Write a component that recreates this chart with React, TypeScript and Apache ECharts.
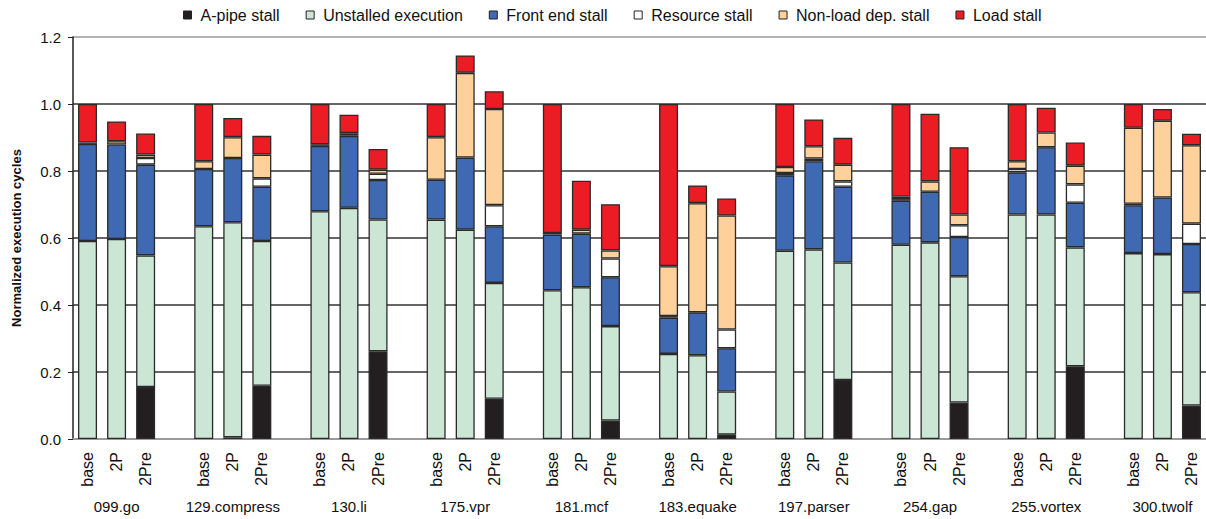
import React, { useEffect, useRef } from "react";
import * as echarts from "echarts";

const benchmarks = ["099.go", "129.compress", "130.li", "175.vpr", "181.mcf", "183.equake", "197.parser", "254.gap", "255.vortex", "300.twolf"];
const configs = ["base", "2P", "2Pre"];

const seriesNames = ["A-pipe stall", "Unstalled execution", "Front end stall", "Resource stall", "Non-load dep. stall", "Load stall"];
const seriesColors = ["#231f20", "#cce6d6", "#3f69b3", "#ffffff", "#fdd09c", "#ec1c24"];

// values per bar, order: benchmark-major, then base / 2P / 2Pre
const aPipe = [
  0, 0, 0.155,
  0, 0.005, 0.159,
  0, 0, 0.262,
  0, 0, 0.12,
  0, 0, 0.055,
  0, 0, 0.013,
  0, 0, 0.176,
  0, 0, 0.109,
  0, 0, 0.217,
  0, 0, 0.1,
];
const unstalled = [
  0.591, 0.597, 0.393,
  0.635, 0.642, 0.432,
  0.68, 0.69, 0.393,
  0.655, 0.625, 0.346,
  0.444, 0.453, 0.282,
  0.254, 0.25, 0.129,
  0.562, 0.566, 0.351,
  0.58, 0.587, 0.377,
  0.67, 0.67, 0.355,
  0.555, 0.552, 0.338,
];
const frontEnd = [
  0.29, 0.282, 0.271,
  0.171, 0.192, 0.162,
  0.195, 0.215, 0.118,
  0.119, 0.215, 0.169,
  0.166, 0.16, 0.146,
  0.108, 0.128, 0.129,
  0.225, 0.263, 0.226,
  0.131, 0.151, 0.117,
  0.126, 0.201, 0.133,
  0.143, 0.169, 0.144,
];
const resource = [
  0, 0, 0.02,
  0, 0, 0.025,
  0, 0, 0.019,
  0, 0, 0.063,
  0, 0, 0.056,
  0.005, 0, 0.056,
  0.007, 0.008, 0.016,
  0.005, 0, 0.035,
  0.01, 0, 0.055,
  0.004, 0, 0.061,
];
const nonLoad = [
  0.004, 0.01, 0.01,
  0.023, 0.062, 0.071,
  0.005, 0.008, 0.012,
  0.127, 0.253, 0.287,
  0.005, 0.012, 0.024,
  0.149, 0.326, 0.34,
  0.018, 0.037, 0.05,
  0.008, 0.031, 0.032,
  0.023, 0.044, 0.056,
  0.227, 0.229, 0.234,
];
const loadStall = [
  0.115, 0.059, 0.063,
  0.171, 0.057, 0.056,
  0.12, 0.055, 0.062,
  0.099, 0.052, 0.053,
  0.385, 0.146, 0.138,
  0.484, 0.053, 0.051,
  0.188, 0.08, 0.08,
  0.276, 0.202, 0.201,
  0.171, 0.074, 0.069,
  0.071, 0.035, 0.034,
];

const allValues = [aPipe, unstalled, frontEnd, resource, nonLoad, loadStall];

export default function App() {
  const ref = useRef<HTMLDivElement>(null);
  useEffect(() => {
    if (!ref.current) return;
    const chart = echarts.init(ref.current, null, { renderer: "svg" });

    // slot categories: 3 bars + 1 gap per benchmark (no gap after last)
    const slots: string[] = [];
    const groupSlots: string[] = [];
    const slotIndexOfBar: number[] = [];
    benchmarks.forEach((b, g) => {
      configs.forEach((c, k) => {
        slotIndexOfBar.push(slots.length);
        slots.push(c);
        groupSlots.push(k === 1 ? b : "");
      });
      if (g < benchmarks.length - 1) {
        slots.push("");
        groupSlots.push("");
      }
    });

    const series = seriesNames.map((name, si) => {
      const data: any[] = slots.map(() => "-");
      allValues[si].forEach((v, i) => {
        data[slotIndexOfBar[i]] = v > 0 ? v : "-";
      });
      return {
        name,
        type: "bar",
        stack: "total",
        barWidth: 19,
        data,
        itemStyle: {
          color: seriesColors[si],
          borderColor: "#2a2a2a",
          borderWidth: 1.3,
        },
      };
    });

    chart.setOption({
      animation: false,
      textStyle: { fontFamily: "Liberation Sans, Arial, sans-serif" },
      legend: {
        top: 2,
        left: 178,
        itemWidth: 8,
        itemHeight: 8,
        itemGap: 26,
        textStyle: { fontSize: 16, color: "#111", padding: [0, 0, 0, 4] },
        data: seriesNames.map((n, i) => ({
          name: n,
          icon: "rect",
          itemStyle: { color: seriesColors[i], borderColor: "#222", borderWidth: 1 },
        })),
      },
      grid: { left: 73, top: 37, width: 1137, height: 402 },
      xAxis: [
        {
          type: "category",
          data: slots,
          axisLine: { lineStyle: { color: "#9a9a9a", width: 2 } },
          axisTick: { show: false },
          axisLabel: {
            interval: 0,
            rotate: 90,
            fontSize: 16,
            color: "#111",
            margin: 13,
          },
        },
        {
          type: "category",
          data: groupSlots,
          position: "bottom",
          axisLine: { show: false },
          axisTick: { show: false },
          axisLabel: {
            interval: 0,
            fontSize: 15,
            color: "#111",
            margin: 60,
          },
        },
      ],
      yAxis: {
        type: "value",
        min: 0,
        max: 1.2,
        interval: 0.2,
        name: "Normalized execution cycles",
        nameLocation: "middle",
        nameGap: 50,
        nameTextStyle: { fontSize: 13, fontWeight: "bold", color: "#111" },
        axisLine: { show: true, lineStyle: { color: "#222", width: 1.5 } },
        axisTick: { show: true, length: 5, lineStyle: { color: "#222" } },
        axisLabel: {
          fontSize: 15,
          color: "#111",
          margin: 12,
          formatter: (v: number) => v.toFixed(1),
        },
        splitLine: {
          lineStyle: {
            color: ["#9a9a9a", "#333", "#333", "#333", "#333", "#333", "#9a9a9a"],
            width: 1.5,
          },
        },
      },
      series,
    });
    return () => chart.dispose();
  }, []);
  return (
    <div
      ref={ref}
      style={{ position: "fixed", left: 0, top: 0, width: 1206, height: 519, background: "#fff" }}
    />
  );
}
